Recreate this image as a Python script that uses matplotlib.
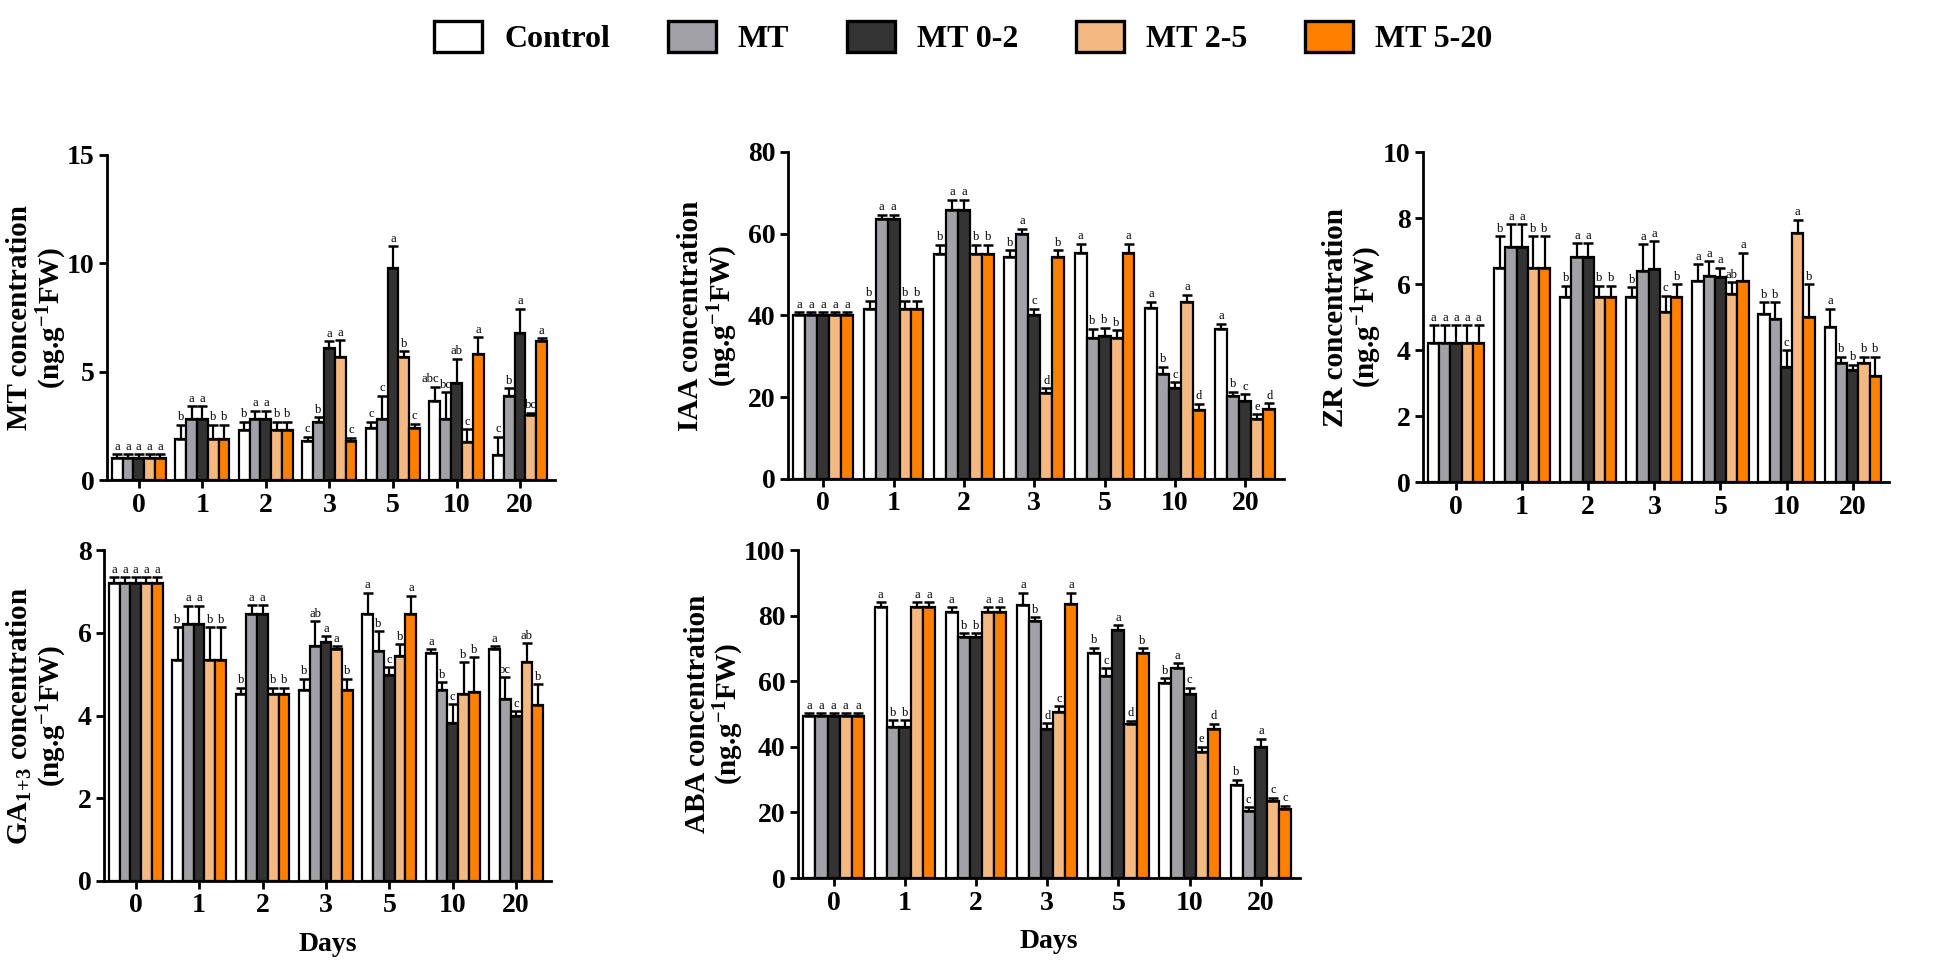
import numpy as np
import matplotlib
matplotlib.use('Agg')
import matplotlib.pyplot as plt
from matplotlib.patches import Patch

plt.rcParams['font.family'] = ['Liberation Serif', 'DejaVu Serif']
plt.rcParams['mathtext.fontset'] = 'custom'
plt.rcParams['mathtext.rm'] = 'Liberation Serif:bold'
plt.rcParams['mathtext.bf'] = 'Liberation Serif:bold'
plt.rcParams['mathtext.it'] = 'Liberation Serif:bold'

days = ['0', '1', '2', '3', '5', '10', '20']
treatments = ['Control', 'MT', 'MT 0-2', 'MT 2-5', 'MT 5-20']
colors = ['#ffffff', '#a2a2a6', '#333333', '#f4b981', '#ff8000']

# MT concentration
mt_vals = [[1.0, 1.9, 2.3, 1.8, 2.4, 3.65, 1.15],
           [1.0, 2.8, 2.8, 2.7, 2.8, 2.8, 3.9],
           [1.0, 2.8, 2.8, 6.1, 9.8, 4.5, 6.8],
           [1.0, 1.9, 2.3, 5.7, 5.7, 1.75, 3.0],
           [1.0, 1.9, 2.3, 1.8, 2.4, 5.8, 6.4]]
mt_errs = [[0.2, 0.65, 0.4, 0.2, 0.3, 0.65, 0.85],
           [0.2, 0.6, 0.4, 0.2, 1.1, 1.25, 0.35],
           [0.2, 0.6, 0.4, 0.3, 1.0, 1.1, 1.1],
           [0.2, 0.65, 0.4, 0.75, 0.25, 0.6, 0.1],
           [0.2, 0.65, 0.4, 0.15, 0.2, 0.8, 0.15]]
mt_letters = [['a', 'b', 'b', 'c', 'c', 'abc', 'c'],
              ['a', 'a', 'a', 'b', 'c', 'bc', 'b'],
              ['a', 'a', 'a', 'a', 'a', 'ab', 'a'],
              ['a', 'b', 'b', 'a', 'b', 'c', 'bc'],
              ['a', 'b', 'b', 'c', 'c', 'a', 'a']]

# IAA concentration
iaa_vals = [[40, 41.5, 55.1, 54.2, 55.4, 41.9, 36.6],
            [40, 63.7, 65.8, 60.0, 34.6, 25.8, 20.3],
            [40, 63.7, 65.8, 40.2, 35.0, 22.2, 19.2],
            [40, 41.5, 55.1, 21.0, 34.4, 43.4, 14.8],
            [40, 41.5, 55.1, 54.2, 55.4, 17.0, 17.1]]
iaa_errs = [[0.8, 2.1, 2.2, 1.8, 2.2, 1.5, 1.4],
            [0.8, 1.0, 2.5, 1.2, 2.2, 1.7, 1.1],
            [0.8, 1.0, 2.5, 1.5, 2.0, 1.5, 1.5],
            [0.8, 2.1, 2.2, 1.2, 2.0, 1.7, 1.0],
            [0.8, 2.1, 2.2, 1.8, 2.2, 1.4, 1.4]]
iaa_letters = [['a', 'b', 'b', 'b', 'a', 'a', 'a'],
               ['a', 'a', 'a', 'a', 'b', 'b', 'b'],
               ['a', 'a', 'a', 'c', 'b', 'c', 'c'],
               ['a', 'b', 'b', 'd', 'b', 'a', 'e'],
               ['a', 'b', 'b', 'b', 'a', 'd', 'd']]

# ZR concentration
zr_vals = [[4.2, 6.5, 5.6, 5.6, 6.1, 5.1, 4.7],
           [4.2, 7.12, 6.82, 6.4, 6.25, 4.95, 3.6],
           [4.2, 7.12, 6.82, 6.45, 6.2, 3.5, 3.4],
           [4.2, 6.5, 5.6, 5.15, 5.7, 7.55, 3.6],
           [4.2, 6.5, 5.6, 5.6, 6.1, 5.0, 3.2]]
zr_errs = [[0.55, 0.95, 0.35, 0.3, 0.5, 0.35, 0.55],
           [0.55, 0.7, 0.42, 0.8, 0.45, 0.5, 0.2],
           [0.55, 0.7, 0.42, 0.85, 0.3, 0.5, 0.15],
           [0.55, 0.95, 0.35, 0.5, 0.35, 0.4, 0.2],
           [0.55, 0.95, 0.35, 0.4, 0.85, 1.0, 0.6]]
zr_letters = [['a', 'b', 'b', 'b', 'a', 'b', 'a'],
              ['a', 'a', 'a', 'a', 'a', 'b', 'b'],
              ['a', 'a', 'a', 'a', 'a', 'c', 'b'],
              ['a', 'b', 'b', 'c', 'ab', 'a', 'b'],
              ['a', 'b', 'b', 'b', 'a', 'b', 'b']]

# GA1+3 concentration
ga_vals = [[7.2, 5.34, 4.53, 4.62, 6.45, 5.5, 5.6],
           [7.2, 6.2, 6.45, 5.68, 5.56, 4.61, 4.4],
           [7.2, 6.2, 6.45, 5.78, 4.97, 3.82, 4.0],
           [7.2, 5.34, 4.53, 5.6, 5.45, 4.52, 5.3],
           [7.2, 5.34, 4.53, 4.62, 6.45, 4.56, 4.25]]
ga_errs = [[0.14, 0.8, 0.14, 0.27, 0.52, 0.1, 0.08],
           [0.14, 0.45, 0.21, 0.6, 0.48, 0.2, 0.53],
           [0.14, 0.45, 0.21, 0.14, 0.2, 0.46, 0.1],
           [0.14, 0.8, 0.14, 0.08, 0.27, 0.77, 0.45],
           [0.14, 0.8, 0.14, 0.27, 0.45, 0.85, 0.5]]
ga_letters = [['a', 'b', 'b', 'b', 'a', 'a', 'a'],
              ['a', 'a', 'a', 'ab', 'b', 'b', 'bc'],
              ['a', 'a', 'a', 'a', 'c', 'c', 'c'],
              ['a', 'b', 'b', 'a', 'b', 'b', 'ab'],
              ['a', 'b', 'b', 'b', 'a', 'b', 'b']]

# ABA concentration
aba_vals = [[49.5, 82.5, 81, 83.3, 68.5, 59.5, 28.5],
            [49.5, 46, 73.4, 78.3, 61.5, 64, 20.5],
            [49.5, 46, 73.4, 45.5, 75.5, 56, 40],
            [49.5, 82.5, 81, 50.5, 47, 38.5, 23.5],
            [49.5, 82.5, 81, 83.5, 68.5, 45.5, 21]]
aba_errs = [[0.8, 1.5, 1.6, 3.7, 1.7, 1.5, 1.5],
            [0.8, 2.2, 1.3, 1.3, 2.5, 1.5, 1.0],
            [0.8, 2.2, 1.3, 1.7, 1.5, 2.0, 2.5],
            [0.8, 1.5, 1.6, 1.8, 1.0, 1.5, 1.0],
            [0.8, 1.5, 1.6, 3.5, 1.5, 1.5, 1.0]]
aba_letters = [['a', 'a', 'a', 'a', 'b', 'b', 'b'],
               ['a', 'b', 'b', 'b', 'c', 'a', 'c'],
               ['a', 'b', 'b', 'd', 'a', 'c', 'a'],
               ['a', 'a', 'a', 'c', 'd', 'e', 'c'],
               ['a', 'a', 'a', 'a', 'b', 'd', 'c']]

fig = plt.figure(figsize=(19.46, 9.68), dpi=100)
W, H = 1946, 968


def px_axes(left, right, top, bottom):
    return fig.add_axes([left / W, 1 - bottom / H, (right - left) / W, (bottom - top) / H])


def panel(ax, vals, errs, letters, ymax, step, ylabel, label_x, xlabel=False):
    x = np.arange(len(days))
    bw = 0.17
    for i in range(len(treatments)):
        xs = x + (i - 2) * bw
        ax.bar(xs, vals[i], bw, color=colors[i], edgecolor='black', linewidth=1.6, zorder=2)
        ax.errorbar(xs, vals[i], yerr=[np.zeros(len(days)), errs[i]], fmt='none',
                    ecolor='black', elinewidth=1.6, capsize=3.5, capthick=1.8, zorder=3)
        for j in range(len(days)):
            dx = -3 if len(letters[i][j]) > 2 else 0
            ax.annotate(letters[i][j], (xs[j], vals[i][j] + errs[i][j]), xytext=(dx, 1),
                        textcoords='offset points', ha='center', va='bottom',
                        fontsize=9, fontfamily='Liberation Serif')
    ax.set_xlim(-0.5, 6.55)
    ax.set_ylim(0, ymax)
    ax.set_yticks(np.arange(0, ymax + step / 2, step))
    ax.set_xticks(x)
    ax.set_xticklabels(days)
    for s in ['top', 'right']:
        ax.spines[s].set_visible(False)
    for s in ['left', 'bottom']:
        ax.spines[s].set_linewidth(2)
    ax.tick_params(width=2, length=6, labelsize=20, pad=3)
    for t in ax.get_xticklabels() + ax.get_yticklabels():
        t.set_fontweight('bold')
    ax.text(label_x, 0.5, ylabel, transform=ax.transAxes, rotation=90, ha='center',
            va='center', fontsize=21, fontweight='bold', multialignment='center',
            linespacing=1.05)
    if xlabel:
        ax.set_xlabel('Days', fontsize=20, fontweight='bold', labelpad=10)


unit = r'(ng.g$^{-1}$FW)'
ax1 = px_axes(107, 555, 155, 480)
panel(ax1, mt_vals, mt_errs, mt_letters, 15, 5, 'MT concentration\n' + unit, -0.155)
ax2 = px_axes(788, 1284, 152, 479)
panel(ax2, iaa_vals, iaa_errs, iaa_letters, 80, 20, 'IAA concentration\n' + unit, -0.16)
ax3 = px_axes(1423, 1889, 152, 482)
panel(ax3, zr_vals, zr_errs, zr_letters, 10, 2, 'ZR concentration\n' + unit, -0.15)
ax4 = px_axes(104, 551, 550, 881)
panel(ax4, ga_vals, ga_errs, ga_letters, 8, 2, r'GA$_{1\!+\!3}$ concentration' + '\n' + unit, -0.15,
      xlabel=True)
ax5 = px_axes(798, 1300, 550, 878)
panel(ax5, aba_vals, aba_errs, aba_letters, 100, 20, 'ABA concentration\n' + unit, -0.165,
      xlabel=True)

handles = [Patch(facecolor=c, edgecolor='black', linewidth=2.4) for c in colors]
fig.legend(handles, treatments, loc='upper center', bbox_to_anchor=(0.495, 1.008), ncol=5,
           frameon=False, prop={'family': 'Liberation Serif', 'weight': 'bold', 'size': 23},
           handlelength=1.5, handleheight=1.1, columnspacing=1.8, handletextpad=0.7)

fig.savefig('out.png', dpi=100)
